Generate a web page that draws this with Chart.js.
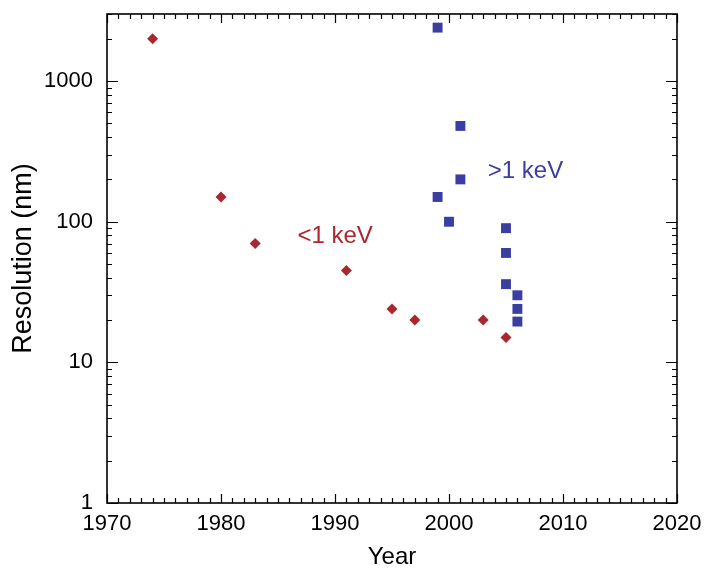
<!DOCTYPE html>
<html><head><meta charset="utf-8">
<script src="https://cdn.jsdelivr.net/npm/chart.js@4"></script>
<style>html,body{margin:0;padding:0;background:#fff}#wrap{width:706px;height:569px}</style>
</head><body><div id="wrap"><canvas id="c" width="706" height="569"></canvas></div>
<script>
const lowYears = [1974, 1980, 1983, 1991, 1995, 1997, 2003, 2005];
const lowRes = [2000, 150, 70, 45, 24, 20, 20, 15];
const highYears = [1999, 2001, 2001, 1999, 2000, 2005, 2005, 2005, 2006, 2006, 2006];
const highRes = [2400, 480, 200, 150, 100, 90, 60, 36, 30, 24, 19.5];
const yTickValues = [1, 10, 100, 1000];
const xTickValues = [1970, 1980, 1990, 2000, 2010, 2020];
const seriesLabels = ['<1 keV', '>1 keV'];
const labelYears = [1986.7, 2003.4];
const labelRes = [70.5, 204];

const RED = '#A9272D', BLUE = '#3A3DA2';
const FONT = "'Liberation Sans', Arial, Helvetica, sans-serif";

const frame = {
  id: 'frame',
  afterDraw(chart) {
    const ctx = chart.ctx, a = chart.chartArea;
    const xs = chart.scales.x, ys = chart.scales.y;
    ctx.save();
    ctx.strokeStyle = '#000';
    ctx.lineWidth = 1.2;
    ctx.beginPath();
    for (let yr = Math.ceil(xs.min); yr <= xs.max; yr++) {
      const px = Math.round(xs.getPixelForValue(yr)) + 0.5;
      const len = (yr % 10 === 0) ? 9 : 5;
      ctx.moveTo(px, a.bottom); ctx.lineTo(px, a.bottom - len);
      ctx.moveTo(px, a.top); ctx.lineTo(px, a.top + len);
    }
    for (let d = 1; d <= ys.max; d *= 10) {
      for (let m = 1; m <= 9; m++) {
        const v = d * m;
        if (v < ys.min || v > ys.max) continue;
        const py = Math.round(ys.getPixelForValue(v)) + 0.5;
        const len = (m === 1) ? 11 : 5;
        ctx.moveTo(a.left, py); ctx.lineTo(a.left + len, py);
        ctx.moveTo(a.right, py); ctx.lineTo(a.right - len, py);
      }
    }
    ctx.stroke();
    ctx.lineWidth = 1.6;
    ctx.strokeRect(a.left, a.top, a.right - a.left, a.bottom - a.top);
    ctx.font = '24px ' + FONT;
    ctx.textAlign = 'left';
    ctx.textBaseline = 'alphabetic';
    const cols = [RED, BLUE];
    for (let i = 0; i < seriesLabels.length; i++) {
      ctx.fillStyle = cols[i];
      ctx.fillText(seriesLabels[i], xs.getPixelForValue(labelYears[i]), ys.getPixelForValue(labelRes[i]));
    }
    ctx.restore();
  }
};

new Chart(document.getElementById('c'), {
  type: 'scatter',
  data: {
    datasets: [
      {
        label: seriesLabels[0],
        data: lowYears.map((x, i) => ({x: x, y: lowRes[i]})),
        pointStyle: 'rectRot', pointRadius: 5.5,
        backgroundColor: RED, borderColor: RED, borderWidth: 0
      },
      {
        label: seriesLabels[1],
        data: highYears.map((x, i) => ({x: x, y: highRes[i]})),
        pointStyle: 'rect', pointRadius: 7,
        backgroundColor: BLUE, borderColor: BLUE, borderWidth: 0
      }
    ]
  },
  options: {
    responsive: false, animation: false, devicePixelRatio: 1,
    layout: {padding: {left: 0, right: 29, top: 14, bottom: 0}},
    plugins: {legend: {display: false}, tooltip: {enabled: false}},
    scales: {
      x: {
        type: 'linear', min: 1970, max: 2020,
        afterBuildTicks: s => { s.ticks = xTickValues.map(v => ({value: v})); },
        afterFit: s => { s.height = 66; s.paddingLeft = 0; s.paddingRight = 0; },
        grid: {display: false, drawTicks: false},
        border: {display: false},
        ticks: {color: '#000', font: {family: FONT, size: 22}, padding: 8, maxRotation: 0, autoSkip: false, callback: v => String(v)},
        title: {display: true, text: 'Year', color: '#000', font: {family: FONT, size: 24, lineHeight: 1}, padding: {top: 0, bottom: 0}}
      },
      y: {
        type: 'logarithmic', min: 1, max: 3000,
        afterBuildTicks: s => { s.ticks = yTickValues.map(v => ({value: v})); },
        afterFit: s => { s.width = 107; s.paddingTop = 0; s.paddingBottom = 0; },
        grid: {display: false, drawTicks: false},
        border: {display: false},
        ticks: {color: '#000', font: {family: FONT, size: 22}, padding: 14, callback: v => String(v)},
        title: {display: true, text: 'Resolution (nm)', color: '#000', font: {family: FONT, size: 27, lineHeight: 1.2}, padding: {top: 7, bottom: 0}}
      }
    }
  },
  plugins: [frame]
});
</script></body></html>
